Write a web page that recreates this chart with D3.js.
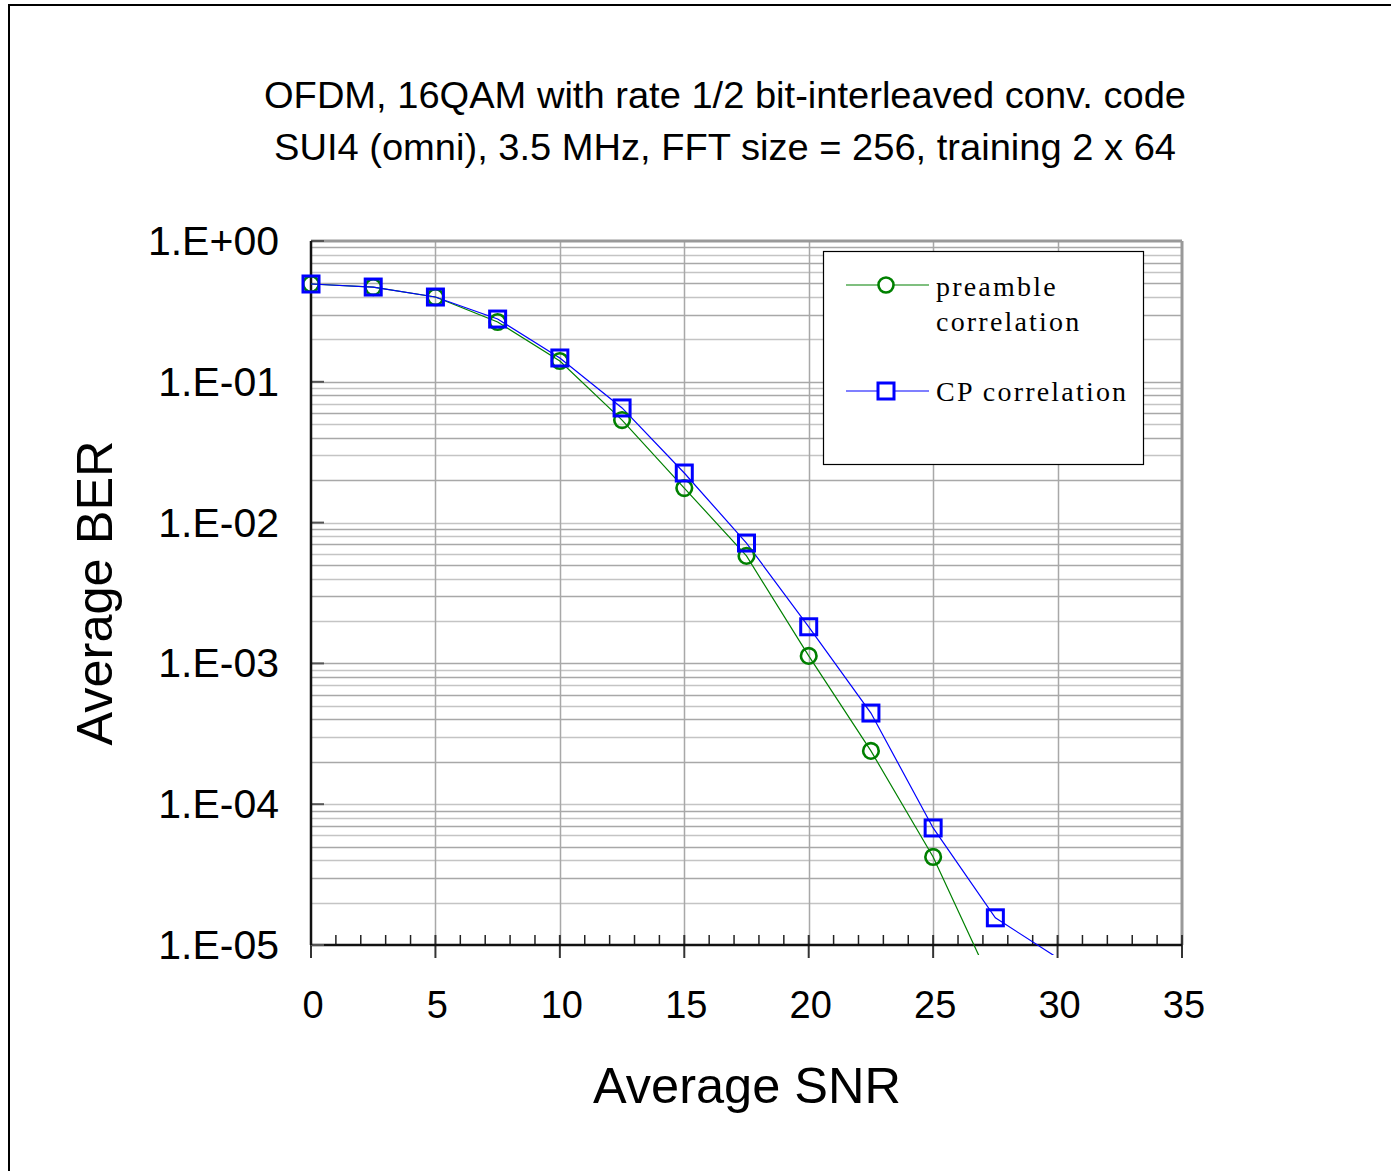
<!DOCTYPE html>
<html>
<head>
<meta charset="utf-8">
<script src="https://cdn.jsdelivr.net/npm/d3@7"></script>
<style>
  html, body { margin: 0; padding: 0; background: #fff; }
  svg { display: block; }
</style>
</head>
<body>
<script>
// Average BER vs. average SNR for two synchronisation methods
const snr = [0, 2.5, 5, 7.5, 10, 12.5, 15, 17.5, 20, 22.5, 25, 27.5, 30];
const berPreamble = [0.495, 0.471, 0.400, 0.266, 0.1405, 0.0535, 0.0176, 0.0058, 0.00113, 2.39e-4, 4.22e-5, 4.7e-6];
const berCP = [0.495, 0.471, 0.400, 0.279, 0.1476, 0.0652, 0.0225, 0.00716, 0.00182, 4.44e-4, 6.78e-5, 1.56e-5, 8.1e-6];
const xTicks = [0, 5, 10, 15, 20, 25, 30, 35];
const yTicks = [1, 1e-1, 1e-2, 1e-3, 1e-4, 1e-5];
const yTickLabels = ["1.E+00", "1.E-01", "1.E-02", "1.E-03", "1.E-04", "1.E-05"];
const titleLines = [
  "OFDM, 16QAM with rate 1/2 bit-interleaved conv. code",
  "SUI4 (omni), 3.5 MHz, FFT size = 256, training 2 x 64"
];
const titleWidths = [922, 902];
const seriesNames = [["preamble", "correlation"], ["CP correlation"]];

const W = 1391, H = 1171;
const svg = d3.select("body").append("svg").attr("width", W).attr("height", H);

// outer frame (only left and top edges fall inside the page)
svg.append("line").attr("x1", 8).attr("y1", 5).attr("x2", W).attr("y2", 5)
  .attr("stroke", "#000").attr("stroke-width", 2);
svg.append("line").attr("x1", 9).attr("y1", 5).attr("x2", 9).attr("y2", H)
  .attr("stroke", "#000").attr("stroke-width", 2);

const x = d3.scaleLinear().domain([0, 35]).range([311, 1182]);
const y = d3.scaleLog().domain([1e-5, 1]).range([945, 241]);
const sans = "'Liberation Sans', Arial, sans-serif";
const serif = "'Liberation Serif', 'Times New Roman', serif";

// horizontal grid: every 1..9 within each decade
const gridY = [];
for (let e = -5; e < 0; e++) for (let m = 1; m <= 9; m++) gridY.push(m * Math.pow(10, e));
svg.append("g").selectAll("line").data(gridY.filter(v => v > 1e-5)).join("line")
  .attr("x1", x(0)).attr("x2", x(35))
  .attr("y1", d => Math.round(y(d)) + 0.5).attr("y2", d => Math.round(y(d)) + 0.5)
  .attr("stroke", (d, i) => i % 2 ? "#a8a8a8" : "#c4c4c4").attr("stroke-width", 1.5);

// vertical grid at major x ticks
svg.append("g").selectAll("line").data(xTicks.slice(1, -1)).join("line")
  .attr("x1", d => Math.round(x(d)) + 0.5).attr("x2", d => Math.round(x(d)) + 0.5)
  .attr("y1", y(1)).attr("y2", y(1e-5))
  .attr("stroke", "#a8a8a8").attr("stroke-width", 1.5);

// plot frame: top and right in gray
svg.append("line").attr("x1", x(0)).attr("x2", x(35)).attr("y1", y(1)).attr("y2", y(1))
  .attr("stroke", "#999").attr("stroke-width", 3);
svg.append("line").attr("x1", x(35)).attr("x2", x(35)).attr("y1", y(1)).attr("y2", y(1e-5))
  .attr("stroke", "#999").attr("stroke-width", 3);

// x axis: minor ticks inward, major ticks crossing
const xAxis = svg.append("g");
xAxis.selectAll("line.minor").data(d3.range(1, 35).filter(v => v % 5 !== 0)).join("line")
  .attr("class", "minor")
  .attr("x1", d => x(d)).attr("x2", d => x(d))
  .attr("y1", y(1e-5) - 10).attr("y2", y(1e-5))
  .attr("stroke", "#222").attr("stroke-width", 1.5);
xAxis.selectAll("line.major").data(xTicks).join("line")
  .attr("class", "major")
  .attr("x1", d => x(d)).attr("x2", d => x(d))
  .attr("y1", y(1e-5) - 10).attr("y2", y(1e-5) + 13)
  .attr("stroke", "#333").attr("stroke-width", 2);
xAxis.append("line").attr("x1", x(0)).attr("x2", x(35)).attr("y1", y(1e-5)).attr("y2", y(1e-5))
  .attr("stroke", "#111").attr("stroke-width", 2.5);
xAxis.selectAll("text").data(xTicks).join("text")
  .attr("x", d => x(d) + 2).attr("y", 1018)
  .attr("text-anchor", "middle")
  .attr("font-family", sans).attr("font-size", 38)
  .text(d => d);

// y axis
const yAxis = svg.append("g");
yAxis.selectAll("line").data(yTicks).join("line")
  .attr("x1", x(0)).attr("x2", x(0) + 13)
  .attr("y1", d => y(d)).attr("y2", d => y(d))
  .attr("stroke", "#555").attr("stroke-width", 2);
yAxis.append("line").attr("x1", x(0)).attr("x2", x(0)).attr("y1", y(1)).attr("y2", y(1e-5))
  .attr("stroke", "#111").attr("stroke-width", 2.5);
yAxis.selectAll("text").data(yTicks).join("text")
  .attr("x", 279).attr("y", d => y(d) + 14)
  .attr("text-anchor", "end")
  .attr("font-family", sans).attr("font-size", 41)
  .text((d, i) => yTickLabels[i]);

// curves, clipped a little below the bottom axis
svg.append("clipPath").attr("id", "plotClip").append("rect")
  .attr("x", x(0)).attr("y", y(1)).attr("width", x(35) - x(0)).attr("height", y(1e-5) - y(1) + 10);

const line = d3.line().x(d => x(d[0])).y(d => y(d[1]));
const ptsP = berPreamble.map((v, i) => [snr[i], v]);
const ptsC = berCP.map((v, i) => [snr[i], v]);

const curves = svg.append("g").attr("clip-path", "url(#plotClip)");
curves.append("path").datum(ptsP).attr("d", line)
  .attr("fill", "none").attr("stroke", "#008000").attr("stroke-width", 1.2);
curves.append("path").datum(ptsC).attr("d", line)
  .attr("fill", "none").attr("stroke", "#0000ff").attr("stroke-width", 1.2);

// markers (only those within the axis range)
const inRange = p => p[1] >= 1e-5;
svg.append("g").selectAll("circle").data(ptsP.filter(inRange)).join("circle")
  .attr("cx", d => x(d[0])).attr("cy", d => y(d[1])).attr("r", 7.8)
  .attr("fill", "none").attr("stroke", "#008000").attr("stroke-width", 2.6);
svg.append("g").selectAll("rect").data(ptsC.filter(inRange)).join("rect")
  .attr("x", d => x(d[0]) - 8).attr("y", d => y(d[1]) - 8)
  .attr("width", 16).attr("height", 16)
  .attr("fill", "none").attr("stroke", "#0000ff").attr("stroke-width", 3);

// legend
const lg = svg.append("g");
lg.append("rect").attr("x", 823.5).attr("y", 251.5).attr("width", 320).attr("height", 213)
  .attr("fill", "#fff").attr("stroke", "#000").attr("stroke-width", 1.2);
lg.append("line").attr("x1", 846).attr("x2", 929).attr("y1", 285).attr("y2", 285)
  .attr("stroke", "#008000").attr("stroke-width", 1.2);
lg.append("circle").attr("cx", 886).attr("cy", 285).attr("r", 7.5)
  .attr("fill", "#fff").attr("stroke", "#008000").attr("stroke-width", 2.6);
lg.append("line").attr("x1", 846).attr("x2", 929).attr("y1", 391).attr("y2", 391)
  .attr("stroke", "#0000ff").attr("stroke-width", 1.2);
lg.append("rect").attr("x", 878).attr("y", 383).attr("width", 16).attr("height", 16)
  .attr("fill", "#fff").attr("stroke", "#0000ff").attr("stroke-width", 3);
const legendText = lg.append("g")
  .attr("font-family", serif).attr("font-size", 28).attr("letter-spacing", 2.2);
legendText.append("text").attr("x", 936).attr("y", 296).text(seriesNames[0][0]);
legendText.append("text").attr("x", 936).attr("y", 331).text(seriesNames[0][1]);
legendText.append("text").attr("x", 936).attr("y", 401).text(seriesNames[1][0]);

// title
svg.append("g").selectAll("text").data(titleLines).join("text")
  .attr("x", 725).attr("y", (d, i) => 108 + i * 52)
  .attr("text-anchor", "middle")
  .attr("font-family", sans).attr("font-size", 36.5)
  .attr("textLength", (d, i) => titleWidths[i]).attr("lengthAdjust", "spacingAndGlyphs")
  .text(d => d);

// axis titles
svg.append("text").attr("x", 747).attr("y", 1103)
  .attr("text-anchor", "middle").attr("font-family", sans).attr("font-size", 50.5)
  .text("Average SNR");
svg.append("text").attr("transform", "translate(112,593) rotate(-90)")
  .attr("text-anchor", "middle").attr("font-family", sans).attr("font-size", 50.5)
  .text("Average BER");
</script>
</body>
</html>
